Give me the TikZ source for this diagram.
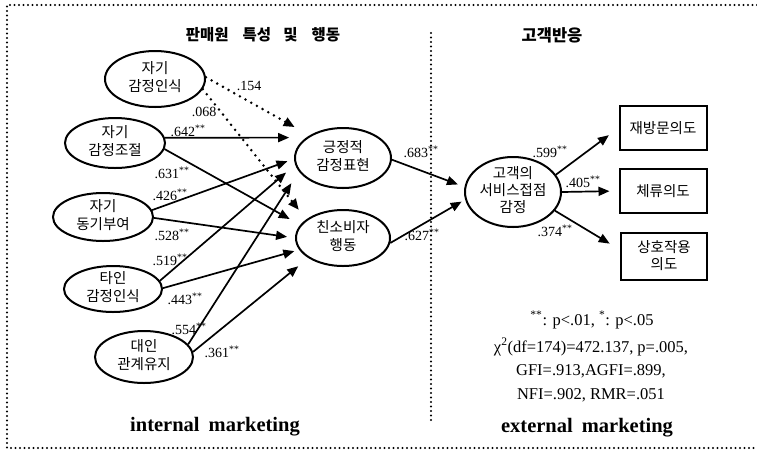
\documentclass[tikz,border=0pt]{standalone}
\usepackage{fontspec}
\setmainfont{Liberation Serif}
\newfontfamily\kn{Noto Sans CJK KR}
\usetikzlibrary{shapes.geometric,arrows.meta}
\newcommand{\zb}[1]{\smash{\makebox[0pt]{\raisebox{-0.25em}{\begin{tabular}{@{}c@{}}#1\end{tabular}}}}}
\newcommand{\ssig}{\textsuperscript{**}}
\begin{document}
\begin{tikzpicture}[x=1pt,y=-1pt,
  ell/.style={ellipse,draw,line width=2pt,inner sep=0pt,font=\kn\fontsize{14.5}{17}\selectfont},
  bx/.style={rectangle,draw,line width=2pt,inner sep=0pt,minimum width=87pt,minimum height=44pt,align=center,font=\kn\fontsize{14.5}{17}\selectfont},
  arr/.style={line width=1.7pt,-{Triangle[length=11pt,width=9pt]}},
  darr/.style={line width=2.8pt,dash pattern=on 0pt off 6.5pt,line cap=round,-{Triangle[length=11pt,width=9pt]}},
  coef/.style={font=\fontsize{14}{16}\selectfont,inner sep=0pt},
  frame/.style={line width=2.2pt,dash pattern=on 0pt off 4.5pt,line cap=round},
  ttl/.style={font=\kn\bfseries\fontsize{15.5}{17}\selectfont,inner sep=0pt},
  mkt/.style={font=\bfseries\fontsize{20.5}{26}\selectfont,inner sep=0pt},
  stat/.style={font=\fontsize{16.5}{23.5}\selectfont,inner sep=0pt,align=center}
]
\useasboundingbox (0,0) rectangle (757,451);
% frame and divider
\draw[frame] (757,5) -- (7,5) -- (7,448) -- (757,448);
\draw[frame] (431,33) -- (431,423);
% titles
\node[ttl] (t1) at (263,35) {판매원\hspace{14pt}특성\hspace{12pt}및\hspace{14pt}행동};
\node[ttl,font=\kn\bfseries\fontsize{16.5}{17}\selectfont] (t2) at (552,35) {고객반응};
\node[mkt] (m1) at (215,427) {internal\hspace{9pt}marketing};
\node[mkt] (m2) at (587,428) {external\hspace{9pt}marketing};
% latent nodes
\node[ell,minimum width=100pt,minimum height=56pt] (A) at (155,79) {\zb{자기\\감정인식}};
\node[ell,minimum width=100pt,minimum height=50pt] (B) at (115,143) {\zb{자기\\감정조절}};
\node[ell,minimum width=100pt,minimum height=48pt] (C) at (103,217) {\zb{자기\\동기부여}};
\node[ell,minimum width=98pt,minimum height=46pt] (D) at (113,289) {\zb{타인\\감정인식}};
\node[ell,minimum width=98pt,minimum height=52pt] (E) at (144,357) {\zb{대인\\관계유지}};
\node[ell,minimum width=96pt,minimum height=60pt] (P) at (343,158) {\zb{긍정적\\감정표현}};
\node[ell,minimum width=94pt,minimum height=56pt] (Q) at (343,238) {\zb{친소비자\\행동}};
\node[ell,minimum width=96pt,minimum height=70pt] (R) at (513,192) {\zb{고객의\\서비스접점\\감정}};
\node[bx] (S1) at (663,128) {재방문의도};
\node[bx] (S2) at (663,191) {체류의도};
\node[bx,minimum width=86pt,minimum height=47pt] (S3) at (664,256) {상호작용\\의도};
% paths
\draw[darr,shorten >=17pt] (A.2) -- (P.146);
\draw[darr,shorten >=12pt] (A.-12) -- (Q.153);
\draw[arr,shorten >=17pt] (B.6) -- (P.151);
\draw[arr,shorten >=12pt] (B.-7) -- (Q.163);
\draw[arr,shorten >=7pt] (C.8) -- (P.-179);
\draw[arr,shorten >=8pt] (C.-1) -- (Q.180);
\draw[arr,shorten >=12pt] (D.10) -- (P.-172);
\draw[arr,shorten >=5pt] (D.1) -- (Q.-165);
\draw[arr,shorten >=14pt] (E.16) -- (P.-163);
\draw[arr,shorten >=13pt] (E.6) -- (Q.-150);
\draw[arr,shorten >=7pt] (P.-2) -- (R.174);
\draw[arr,shorten >=4pt] (Q.-6) -- (R.-171);
\draw[arr,shorten >=12pt] (R.22) -- (S1.west);
\draw[arr,shorten >=9pt] (R.east) -- (S2.west);
\draw[arr,shorten >=12pt] (R.-24) -- (S3.172);
% coefficients
\node[coef] (c1) at (249,86) {.154};
\node[coef] (c2) at (204,112) {.068};
\node[coef] (c3) at (188,131) {.642\ssig};
\node[coef] (c4) at (172,173) {.631\ssig};
\node[coef] (c5) at (170,195) {.426\ssig};
\node[coef] (c6) at (172,235) {.528\ssig};
\node[coef] (c7) at (170,260) {.519\ssig};
\node[coef] (c8) at (185,299) {.443\ssig};
\node[coef] (c9) at (189,329) {.554\ssig};
\node[coef] (c10) at (222,352) {.361\ssig};
\node[coef] (c11) at (421,152) {.683\ssig};
\node[coef] (c12) at (422,235) {.627\ssig};
\node[coef] (c13) at (550,152) {.599\ssig};
\node[coef] (c14) at (583,182) {.405\ssig};
\node[coef] (c15) at (555,231) {.374\ssig};
% statistics
\node[stat] (n1) at (592,320) {\ssig: p<.01, \textsuperscript{*}: p<.05};
\node[stat] (n2) at (591,370) {χ\textsuperscript{2}(df=174)=472.137, p=.005,\\GFI=.913,AGFI=.899,\\NFI=.902, RMR=.051};
\end{tikzpicture}
\end{document}
